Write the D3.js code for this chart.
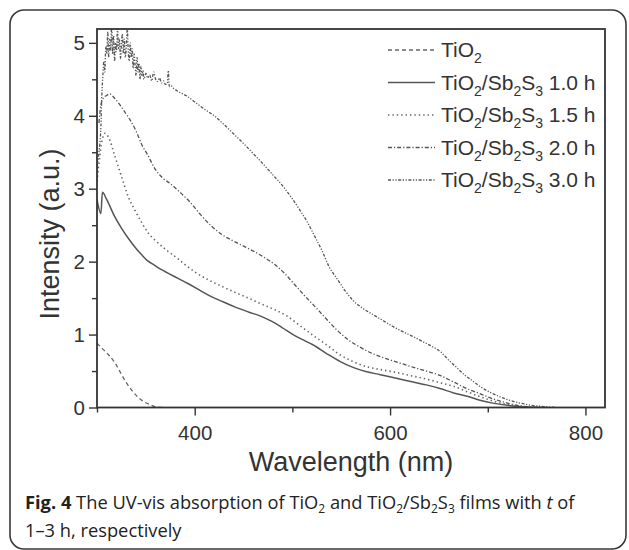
<!DOCTYPE html>
<html>
<head>
<meta charset="utf-8">
<script src="https://cdnjs.cloudflare.com/ajax/libs/d3/7.8.5/d3.min.js"></script>
<style>
  body { margin: 0; background: #fff; }
  svg { display: block; }
</style>
</head>
<body>
<div id="chart"></div>
<script>
// values (wavelength in nm, intensity in a.u.)
const tio2Nm  = [300, 306, 312, 318, 324, 330, 336, 342, 348, 354, 360, 370];
const tio2Int = [0.88, 0.80, 0.72, 0.62, 0.48, 0.34, 0.23, 0.14, 0.08, 0.04, 0.01, 0];

const h10Nm  = [300, 304, 305.5, 310, 318, 325, 332, 340, 346, 352, 359, 366, 373, 383, 393, 405, 417, 429, 441, 455,
                468, 479, 489, 502, 512, 521, 535, 549, 562, 576, 590, 603, 620, 637, 651, 665, 680, 692, 705, 720, 736, 760];
const h10Int = [2.85, 2.66, 2.95, 2.85, 2.62, 2.46, 2.32, 2.18, 2.09, 2.01, 1.95, 1.89, 1.84, 1.77, 1.70, 1.61, 1.52, 1.45, 1.38, 1.31,
                1.25, 1.18, 1.10, 0.99, 0.92, 0.86, 0.74, 0.63, 0.55, 0.49, 0.45, 0.41, 0.36, 0.31, 0.26, 0.20, 0.15, 0.10, 0.06, 0.03, 0.01, 0];

const h15Nm  = [300, 302, 305, 308, 312, 318, 325, 332, 339, 346, 352, 359, 370, 380, 390, 400, 414, 428, 441, 455,
                468, 482, 495, 508, 521, 535, 549, 562, 576, 590, 603, 620, 637, 651, 665, 680, 692, 705, 720, 740];
const h15Int = [3.10, 3.35, 3.65, 3.76, 3.70, 3.46, 3.17, 2.89, 2.70, 2.53, 2.40, 2.30, 2.17, 2.07, 1.96, 1.86, 1.75, 1.66, 1.58, 1.50,
                1.42, 1.34, 1.25, 1.12, 0.99, 0.86, 0.72, 0.63, 0.56, 0.52, 0.49, 0.44, 0.39, 0.34, 0.29, 0.21, 0.15, 0.09, 0.04, 0.01];

const h20Nm  = [302, 304, 307, 310, 313, 318, 323, 328, 334, 340, 346, 352, 359, 367, 375, 385, 395, 405, 417, 428,
                440, 452, 462, 472, 482, 492, 502, 512, 522, 533, 545, 557, 569, 582, 596, 610, 624, 637, 651, 665,
                680, 692, 705, 720, 735, 750];
const h20Int = [3.90, 4.15, 4.25, 4.28, 4.30, 4.24, 4.16, 4.06, 3.94, 3.79, 3.60, 3.46, 3.28, 3.15, 3.07, 2.95, 2.82, 2.66, 2.49, 2.37,
                2.28, 2.20, 2.13, 2.05, 1.96, 1.84, 1.69, 1.54, 1.40, 1.24, 1.07, 0.93, 0.83, 0.74, 0.67, 0.61, 0.55, 0.50, 0.44, 0.35,
                0.25, 0.19, 0.12, 0.06, 0.02, 0];

const h30Nm  = [300, 302, 304, 305, 306, 307, 308, 309, 310, 311, 312, 313, 314, 315, 316, 317, 318, 319, 320, 321,
                322, 323, 324, 325, 326, 327, 328, 329, 330, 331, 332, 333, 334, 335, 336, 337, 338, 339, 340, 341,
                342, 343, 344, 345, 346, 347, 348, 350, 352, 354, 356, 358, 360, 362, 364, 366, 368, 370, 372, 373,
                374, 376, 378, 380, 385, 392, 400, 410, 420, 430, 440, 450, 460, 470, 480, 490, 500, 508, 515, 522,
                530, 538, 546, 554, 562, 572, 583, 593, 603, 613, 624, 634, 644, 652, 660, 668, 676, 685, 693, 702,
                712, 722, 733, 745, 760, 770];
const h30Int = [3.30, 3.50, 3.85, 4.30, 4.55, 4.75, 4.60, 4.95, 4.85, 5.15, 4.80, 5.05, 4.90, 5.25, 4.85, 5.10, 4.75, 5.00, 4.88, 5.22,
                4.92, 5.05, 4.78, 4.98, 5.12, 4.85, 5.05, 4.80, 4.95, 5.20, 4.88, 4.75, 5.00, 4.80, 4.92, 4.65, 4.85, 4.70, 4.55, 4.80,
                4.60, 4.72, 4.50, 4.68, 4.55, 4.62, 4.50, 4.58, 4.52, 4.56, 4.48, 4.60, 4.50, 4.47, 4.52, 4.45, 4.48, 4.43, 4.44, 4.62,
                4.40, 4.41, 4.38, 4.36, 4.32, 4.27, 4.19, 4.09, 4.00, 3.88, 3.75, 3.62, 3.48, 3.34, 3.19, 3.04, 2.86, 2.70, 2.55, 2.37,
                2.16, 1.92, 1.76, 1.60, 1.47, 1.36, 1.27, 1.19, 1.11, 1.04, 0.97, 0.90, 0.83, 0.76, 0.65, 0.55, 0.45, 0.36, 0.28, 0.21,
                0.15, 0.10, 0.06, 0.03, 0.01, 0];

const seriesNames = ["TiO2", "1.0 h", "1.5 h", "2.0 h", "3.0 h"];
const xTicks = [400, 600, 800];
const xMinor = [300, 500, 700];
const yTicks = [0, 1, 2, 3, 4, 5];
const yMinor = [0.5, 1.5, 2.5, 3.5, 4.5];

const W = 629, H = 550;
const plot = {left: 97, right: 605, top: 29, bottom: 407.5};
const axisFont = "'Liberation Sans', Arial, sans-serif";

const series = [
    {name: seriesNames[0], nm: tio2Nm, val: tio2Int, dash: "4,3", color: "#666", w: 1.3},
    {name: seriesNames[1], nm: h10Nm,  val: h10Int,  dash: null, color: "#555", w: 1.5},
    {name: seriesNames[2], nm: h15Nm,  val: h15Int,  dash: "1.4,3", color: "#666", w: 1.6},
    {name: seriesNames[3], nm: h20Nm,  val: h20Int,  dash: "4,2,1.2,2", color: "#555", w: 1.3},
    {name: seriesNames[4], nm: h30Nm,  val: h30Int,  dash: "3,1.6,1.2,1.6,1.2,1.6", color: "#555", w: 1.3}
];

const svg = d3.select("#chart").append("svg")
    .attr("width", W).attr("height", H);

svg.append("rect").attr("width", W).attr("height", H).attr("fill", "#fff");

// rounded outer frame
svg.append("rect")
    .attr("x", 10).attr("y", 10).attr("width", 616).attr("height", 539)
    .attr("rx", 14).attr("ry", 14)
    .attr("fill", "none").attr("stroke", "#3a3a3a").attr("stroke-width", 1.6);

const x = d3.scaleLinear().domain([300, 820]).range([plot.left, plot.right]);
const y = d3.scaleLinear().domain([0, 5.19]).range([plot.bottom, plot.top]);

svg.append("clipPath").attr("id", "clip").append("rect")
    .attr("x", plot.left).attr("y", plot.top)
    .attr("width", plot.right - plot.left).attr("height", plot.bottom - plot.top);

const line = d3.line()
    .x(d => x(d[0]))
    .y(d => y(d[1]))
    .curve(d3.curveMonotoneX);

svg.append("g").attr("clip-path", "url(#clip)")
    .selectAll("path")
    .data(series)
    .enter().append("path")
    .attr("d", s => line(s.nm.map((n, i) => [n, s.val[i]])))
    .attr("fill", "none")
    .attr("stroke", s => s.color)
    .attr("stroke-width", s => s.w)
    .attr("stroke-dasharray", s => s.dash);

// axes
svg.append("g")
    .attr("transform", "translate(0," + plot.bottom + ")")
    .call(d3.axisBottom(x).tickValues(xTicks).tickSize(8).tickPadding(10).tickFormat(d3.format("d")));
svg.append("g")
    .attr("transform", "translate(0," + plot.bottom + ")")
    .call(d3.axisBottom(x).tickValues(xMinor).tickSize(5).tickFormat(""));

svg.append("g")
    .attr("transform", "translate(" + plot.left + ",0)")
    .call(d3.axisLeft(y).tickValues(yTicks).tickSize(8).tickPadding(4).tickFormat(d3.format("d")));
svg.append("g")
    .attr("transform", "translate(" + plot.left + ",0)")
    .call(d3.axisLeft(y).tickValues(yMinor).tickSize(5).tickFormat(""));

svg.selectAll(".domain").remove();
svg.selectAll(".tick line").attr("stroke", "#333").attr("stroke-width", 1.4);
svg.selectAll(".tick text")
    .attr("fill", "#333")
    .style("font-family", axisFont)
    .style("font-size", "20.5px");

// plot frame
svg.append("rect")
    .attr("x", plot.left).attr("y", plot.top)
    .attr("width", plot.right - plot.left).attr("height", plot.bottom - plot.top)
    .attr("fill", "none").attr("stroke", "#333").attr("stroke-width", 1.8);

// axis titles
svg.append("text")
    .attr("x", (plot.left + plot.right) / 2).attr("y", 471)
    .attr("text-anchor", "middle")
    .attr("fill", "#333")
    .style("font-family", axisFont).style("font-size", "27px")
    .text("Wavelength (nm)");

svg.append("text")
    .attr("transform", "translate(59,234) rotate(-90)")
    .attr("text-anchor", "middle")
    .attr("fill", "#333")
    .style("font-family", axisFont).style("font-size", "27px")
    .text("Intensity (a.u.)");

// text with subscripts: parts = [[text, isSub], ...]
function richText(sel, parts, subSize, subDrop) {
    let shifted = false;
    parts.forEach(p => {
        const t = sel.append("tspan").text(p[0]);
        if (p[1] && !shifted) { t.attr("dy", subDrop).style("font-size", subSize); shifted = true; }
        else if (p[1]) { t.style("font-size", subSize); }
        else if (shifted) { t.attr("dy", -subDrop); shifted = false; }
    });
}

function labelParts(name) {
    if (name === "TiO2") return [["TiO", 0], ["2", 1]];
    return [["TiO", 0], ["2", 1], ["/Sb", 0], ["2", 1], ["S", 0], ["3", 1], [" " + name, 0]];
}

// legend
const legend = svg.append("g");
series.forEach((s, i) => {
    const ly = 57 + i * 32.5;
    legend.append("line")
        .attr("x1", 388).attr("x2", 435)
        .attr("y1", ly - 7).attr("y2", ly - 7)
        .attr("stroke", s.color).attr("stroke-width", s.w)
        .attr("stroke-dasharray", s.dash);
    const t = legend.append("text")
        .attr("x", 441).attr("y", ly)
        .attr("fill", "#333")
        .style("font-family", axisFont).style("font-size", "21px");
    richText(t, labelParts(s.name), "14px", 6);
});

// caption
const capFont = "'Open Sans', 'Noto Sans', sans-serif";
const cap1 = svg.append("text")
    .attr("x", 25).attr("y", 509)
    .attr("fill", "#222")
    .style("font-family", capFont).style("font-size", "18.3px");
cap1.append("tspan").style("font-weight", "bold").text("Fig. 4");
richText(cap1, [[" The UV-vis absorption of TiO", 0], ["2", 1], [" and TiO", 0], ["2", 1], ["/Sb", 0], ["2", 1],
    ["S", 0], ["3", 1], [" films with ", 0]], "12px", 4);
cap1.append("tspan").style("font-style", "italic").text("t");
cap1.append("tspan").text(" of");

svg.append("text")
    .attr("x", 25).attr("y", 537)
    .attr("fill", "#222")
    .style("font-family", capFont).style("font-size", "18.3px")
    .text("1–3 h, respectively");
</script>
</body>
</html>
